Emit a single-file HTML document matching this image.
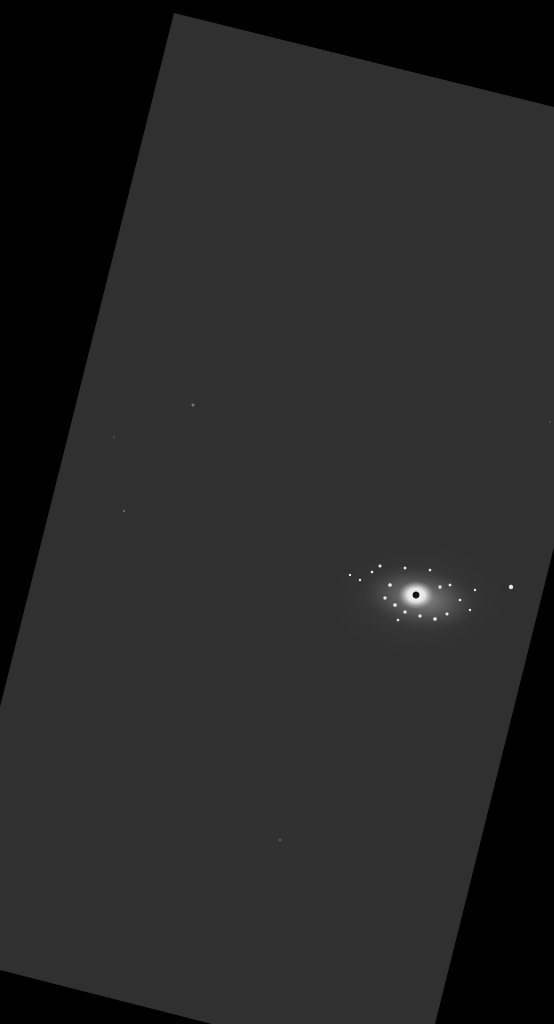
<!DOCTYPE html>
<html><head><meta charset="utf-8"><style>
html,body{margin:0;padding:0;background:#000;width:554px;height:1024px;overflow:hidden}
</style></head><body>
<svg width="554" height="1024" viewBox="0 0 554 1024" xmlns="http://www.w3.org/2000/svg">
<defs>
<radialGradient id="halo" cx="0.5" cy="0.5" r="0.5">
<stop offset="0" stop-color="#aaa" stop-opacity="0.8"/>
<stop offset="0.5" stop-color="#777" stop-opacity="0.45"/>
<stop offset="1" stop-color="#444" stop-opacity="0"/>
</radialGradient>
<radialGradient id="glow" cx="0.5" cy="0.5" r="0.5">
<stop offset="0" stop-color="#4a4a4a" stop-opacity="0.8"/>
<stop offset="1" stop-color="#333" stop-opacity="0"/>
</radialGradient>
<radialGradient id="core" cx="0.5" cy="0.5" r="0.5">
<stop offset="0" stop-color="#fff"/>
<stop offset="0.5" stop-color="#eee" stop-opacity="0.9"/>
<stop offset="1" stop-color="#aaa" stop-opacity="0"/>
</radialGradient>
</defs>
<rect width="554" height="1024" fill="#000"/>
<polygon points="174,13 554,107 554,547 435,1024 212,1024 0,970 0,707" fill="#303030"/>
<g>
<ellipse cx="418" cy="600" rx="95" ry="60" fill="url(#glow)"/>
<ellipse cx="420" cy="598" rx="60" ry="32" fill="url(#halo)" transform="rotate(10 420 598)"/>
<ellipse cx="416" cy="595" rx="18" ry="14" fill="url(#core)"/>
<circle cx="416" cy="595" r="3.5" fill="#111"/>
<g fill="#e8e8e8">
<circle cx="390" cy="585" r="1.8"/><circle cx="385" cy="598" r="1.6"/><circle cx="395" cy="605" r="1.8"/>
<circle cx="405" cy="612" r="1.6"/><circle cx="420" cy="616" r="1.6"/><circle cx="435" cy="619" r="1.8"/>
<circle cx="447" cy="614" r="1.5"/><circle cx="440" cy="587" r="1.6"/><circle cx="450" cy="585" r="1.4"/>
<circle cx="380" cy="566" r="1.5"/><circle cx="372" cy="572" r="1.3"/><circle cx="405" cy="568" r="1.4"/>
<circle cx="430" cy="570" r="1.3"/><circle cx="460" cy="600" r="1.3"/><circle cx="475" cy="590" r="1.2"/>
<circle cx="511" cy="587" r="2.2"/><circle cx="350" cy="575" r="1.2"/><circle cx="360" cy="580" r="1.2"/>
<circle cx="398" cy="620" r="1.3"/><circle cx="470" cy="610" r="1.2"/>
</g>
</g>
<circle cx="193" cy="405" r="1.5" fill="#777"/>
<circle cx="124" cy="511" r="1.2" fill="#666"/>
<circle cx="114" cy="437" r="1" fill="#555"/>
<circle cx="280" cy="840" r="1.5" fill="#555"/>
<circle cx="550" cy="422" r="1" fill="#555"/>
</svg>
</body></html>
